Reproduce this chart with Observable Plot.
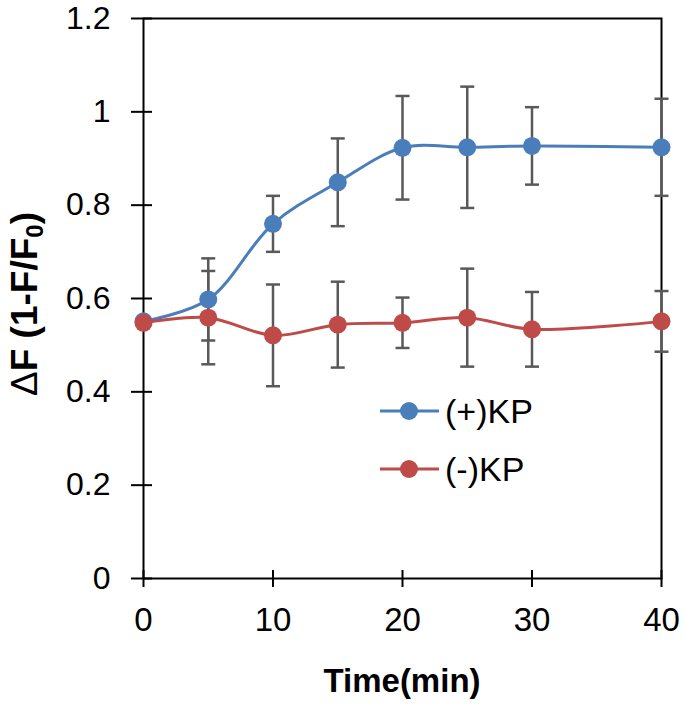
<!DOCTYPE html>
<html>
<head>
<meta charset="utf-8">
<script src="https://cdn.jsdelivr.net/npm/d3@7"></script>
<script src="https://cdn.jsdelivr.net/npm/@observablehq/plot@0.6"></script>
<style>
  html, body { margin: 0; padding: 0; background: #fff; }
  #chart { position: relative; width: 685px; height: 704px; }
</style>
</head>
<body>
<div id="chart"></div>
<script>
// ---- data ----
const times = [0, 5, 10, 15, 20, 25, 30, 40];
const plusKP = [0.551, 0.598, 0.760, 0.849, 0.923, 0.924, 0.927, 0.924];
const plusErr = [0, 0.088, 0.060, 0.094, 0.111, 0.130, 0.083, 0.104];
const minusKP = [0.548, 0.559, 0.521, 0.544, 0.548, 0.559, 0.534, 0.551];
const minusErr = [0, 0.100, 0.109, 0.092, 0.054, 0.105, 0.080, 0.065];
const seriesNames = ["(+)KP", "(-)KP"];
const xTicks = [0, 10, 20, 30, 40];
const xTickLabels = ["0", "10", "20", "30", "40"];
const yTicks = [0, 0.2, 0.4, 0.6, 0.8, 1.0, 1.2];
const yTickLabels = ["0", "0.2", "0.4", "0.6", "0.8", "1", "1.2"];
const xTitle = "Time(min)";

// ---- styling ----
const BLUE = "#4a7ebb";
const RED = "#be4b48";
const GRAY = "#595959";
const FONT = "'Liberation Sans', Arial, sans-serif";

const plusData = times.map((t, i) => ({t, v: plusKP[i], e: plusErr[i]}));
const minusData = times.map((t, i) => ({t, v: minusKP[i], e: minusErr[i]}));
const errData = [...plusData, ...minusData].filter(d => d.e > 0);

const capSymbol = {
  draw(ctx) { ctx.moveTo(-7, 0); ctx.lineTo(7, 0); }
};

const W = 685, H = 704, ML = 143, MR = 24, MT = 18, MB = 126;

const plot = Plot.plot({
  width: W, height: H,
  marginLeft: ML, marginRight: MR, marginTop: MT, marginBottom: MB,
  style: {fontFamily: FONT, background: "white", overflow: "visible"},
  x: {domain: [0, 40]},
  y: {domain: [0, 1.2]},
  marks: [
    Plot.axisX({ticks: xTicks, tickFormat: (d, i) => xTickLabels[i], tickSize: 9, tickPadding: 20,
      label: null, fontSize: 33, color: "black", strokeWidth: 2}),
    Plot.axisX({ticks: xTicks, tickFormat: () => "", tickSize: -8, label: null, color: "black", strokeWidth: 2}),
    Plot.axisY({ticks: yTicks, tickFormat: (d, i) => yTickLabels[i], tickSize: 12, tickPadding: 21,
      label: null, fontSize: 32, color: "black", strokeWidth: 2}),
    Plot.axisY({ticks: yTicks, tickFormat: () => "", tickSize: -9, label: null, color: "black", strokeWidth: 2}),
    Plot.frame({stroke: "black", strokeWidth: 2}),
    Plot.ruleX(errData, {x: "t", y1: d => d.v - d.e, y2: d => d.v + d.e, stroke: GRAY, strokeWidth: 2.5}),
    Plot.dot(errData, {x: "t", y: d => d.v + d.e, symbol: capSymbol, fill: "none", stroke: GRAY, strokeWidth: 2.5}),
    Plot.dot(errData, {x: "t", y: d => d.v - d.e, symbol: capSymbol, fill: "none", stroke: GRAY, strokeWidth: 2.5}),
    Plot.line(plusData, {x: "t", y: "v", stroke: BLUE, strokeWidth: 3, curve: "catmull-rom"}),
    Plot.dot(plusData, {x: "t", y: "v", r: 9, fill: BLUE}),
    Plot.line(minusData, {x: "t", y: "v", stroke: RED, strokeWidth: 3, curve: "catmull-rom"}),
    Plot.dot(minusData, {x: "t", y: "v", r: 9, fill: RED})
  ]
});

const svg = d3.select(plot);

// x-axis title
svg.append("text")
  .attr("x", ML + (W - ML - MR) / 2)
  .attr("y", 692)
  .attr("text-anchor", "middle")
  .attr("font-family", FONT)
  .attr("font-size", 33)
  .attr("font-weight", "bold")
  .attr("fill", "black")
  .text(xTitle);

// y-axis title with subscript
const yt = svg.append("text")
  .attr("transform", `translate(37, 304) rotate(-90)`)
  .attr("text-anchor", "middle")
  .attr("font-family", FONT)
  .attr("font-size", 37)
  .attr("font-weight", "bold")
  .attr("fill", "black");
yt.append("tspan").attr("font-weight", "normal").text("\u0394");
yt.append("tspan").text("F (1-F/F");
yt.append("tspan").attr("font-size", 24).attr("dy", 6).text("0");
yt.append("tspan").attr("dy", -6).text(")");

// legend
const legendColors = [BLUE, RED];
const lg = svg.append("g").attr("text-anchor", "start");
seriesNames.forEach((name, i) => {
  const cy = 411 + i * 58;
  lg.append("line").attr("x1", 380).attr("x2", 439).attr("y1", cy).attr("y2", cy)
    .attr("stroke", legendColors[i]).attr("stroke-width", 3);
  lg.append("circle").attr("cx", 409).attr("cy", cy).attr("r", 9).attr("fill", legendColors[i]);
  lg.append("text").attr("x", 445).attr("y", cy + 12).attr("text-anchor", "start")
    .attr("font-family", FONT).attr("font-size", 34).attr("fill", "black").text(name);
});

document.getElementById("chart").appendChild(plot);
</script>
</body>
</html>
